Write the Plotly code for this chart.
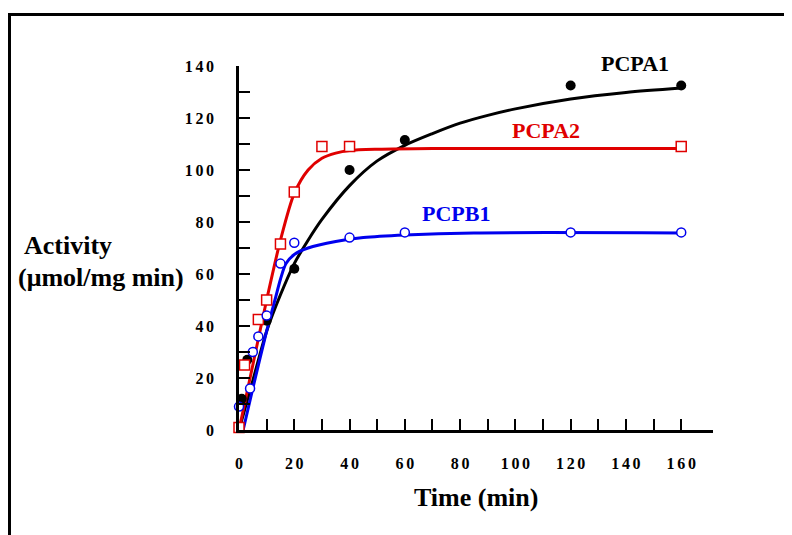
import plotly.graph_objects as go

# ---- measured data points ----
time_pcpa1 = [1, 3, 10, 20, 40, 60, 120, 160]
act_pcpa1 = [12, 27, 42, 62, 100, 111.5, 132.5, 132.5]

time_pcpa2 = [0, 2, 7, 10, 15, 20, 30, 40, 160]
act_pcpa2 = [1, 25, 42.5, 50, 71.5, 91.5, 109, 109, 109]

time_pcpb1 = [0, 4, 5, 7, 10, 15, 20, 40, 60, 120, 160]
act_pcpb1 = [9, 16, 30, 36, 44, 64, 72, 74, 76, 76, 76]

# ---- fitted curves ----
fit_t_pcpa1 = [0, 5, 10, 15, 20, 25, 30, 40, 50, 60, 70, 80, 90, 100, 120, 140, 160]
fit_pcpa1 = [0, 19, 38, 52, 64, 73, 81, 94, 103.5, 109.5, 114, 118, 121, 123.5, 127.3, 129.8, 131.5]

fit_t_pcpa2 = [0, 5, 10, 15, 20, 25, 30, 35, 40, 50, 70, 160]
fit_pcpa2 = [0, 25, 50, 73, 91, 100, 104.5, 106.5, 107.5, 108, 108.3, 108.3]

fit_t_pcpb1 = [1.5, 5, 10, 13, 15, 17, 20, 25, 35, 45, 60, 85, 160]
fit_pcpb1 = [0, 16, 38, 50, 58, 64, 67.5, 70, 72.5, 74, 75, 75.8, 75.8]

x_tickvals = list(range(0, 161, 10))
y_tickvals = list(range(0, 141, 10))

def spaced(v):
    return "\u2006".join(str(v))

x_ticktext = [spaced(v) if v % 20 == 0 else "" for v in x_tickvals]
y_ticktext = [spaced(v) if v % 20 == 0 else "" for v in y_tickvals]

BLACK = "#000000"
RED = "#e00000"
BLUE = "#0000ee"
FONT = "Liberation Serif"

fig = go.Figure()

fig.add_trace(go.Scatter(x=fit_t_pcpa1, y=fit_pcpa1, mode="lines",
                         line=dict(color=BLACK, width=3, shape="spline", smoothing=0.8),
                         cliponaxis=False))
fig.add_trace(go.Scatter(x=fit_t_pcpa2, y=fit_pcpa2, mode="lines",
                         line=dict(color=RED, width=3, shape="spline", smoothing=0.8),
                         cliponaxis=False))
fig.add_trace(go.Scatter(x=fit_t_pcpb1, y=fit_pcpb1, mode="lines",
                         line=dict(color=BLUE, width=3, shape="spline", smoothing=0.8),
                         cliponaxis=False))

fig.add_trace(go.Scatter(x=time_pcpa1, y=act_pcpa1, mode="markers",
                         marker=dict(symbol="circle", size=10, color=BLACK),
                         cliponaxis=False))
fig.add_trace(go.Scatter(x=time_pcpa2, y=act_pcpa2, mode="markers",
                         marker=dict(symbol="square", size=10, color="white",
                                     line=dict(color=RED, width=1.5)),
                         cliponaxis=False))
fig.add_trace(go.Scatter(x=time_pcpb1, y=act_pcpb1, mode="markers",
                         marker=dict(symbol="circle", size=9, color="white",
                                     line=dict(color=BLUE, width=1.5)),
                         cliponaxis=False))

tickfont = dict(family=FONT, size=16, color="black", weight="bold")

fig.update_xaxes(range=[0, 171.5], tickmode="array", tickvals=x_tickvals,
                 ticktext=x_ticktext, ticks="inside", ticklen=11, tickwidth=2,
                 tickcolor="black", showline=True, linecolor="black", linewidth=2.5,
                 showgrid=False, zeroline=False, tickfont=tickfont,
                 ticklabelstandoff=17)
fig.update_yaxes(range=[0, 140], tickmode="array", tickvals=y_tickvals,
                 ticktext=y_ticktext, ticks="inside", ticklen=11, tickwidth=2,
                 tickcolor="black", showline=True, linecolor="black", linewidth=2.5,
                 showgrid=False, zeroline=False, tickfont=tickfont,
                 ticklabelstandoff=19)

OFF = 8  # page body margin
W, H = 792, 535
L, T = 239 - OFF, 66 - OFF
R = W - (713 - OFF)
B = H - (430 - OFF)
pw, ph = W - L - R, H - T - B

def px_x(px):
    return (px - OFF - L) / pw

def px_y(py):
    return (H - B - (py - OFF)) / ph

titlefont = dict(family=FONT, size=26, color="black", weight="bold")
labelfont = dict(family=FONT, size=22, weight="bold")

annotations = [
    dict(text="Time (min)", xref="paper", yref="paper", x=px_x(476), y=px_y(497),
         xanchor="center", yanchor="middle", showarrow=False, font=titlefont),
    dict(text="Activity", xref="paper", yref="paper", x=px_x(22), y=px_y(245),
         xanchor="left", yanchor="middle", showarrow=False, font=titlefont),
    dict(text="(\u03bcmol/mg min)", xref="paper", yref="paper", x=px_x(16), y=px_y(277),
         xanchor="left", yanchor="middle", showarrow=False, font=titlefont),
    dict(text="PCPA1", xref="paper", yref="paper", x=px_x(635), y=px_y(63),
         xanchor="center", yanchor="middle", showarrow=False,
         font=dict(labelfont, color=BLACK)),
    dict(text="PCPA2", xref="paper", yref="paper", x=px_x(546), y=px_y(130),
         xanchor="center", yanchor="middle", showarrow=False,
         font=dict(labelfont, color=RED)),
    dict(text="PCPB1", xref="paper", yref="paper", x=px_x(456), y=px_y(213),
         xanchor="center", yanchor="middle", showarrow=False,
         font=dict(labelfont, color=BLUE)),
]

shapes = [
    dict(type="line", xref="paper", yref="paper", x0=px_x(8), x1=px_x(820),
         y0=px_y(14.5), y1=px_y(14.5), line=dict(color="black", width=3)),
    dict(type="line", xref="paper", yref="paper", x0=px_x(9.5), x1=px_x(9.5),
         y0=px_y(13), y1=px_y(560), line=dict(color="black", width=3)),
]

fig.update_layout(width=W, height=H, margin=dict(l=L, r=R, t=T, b=B),
                  paper_bgcolor="white", plot_bgcolor="white", showlegend=False,
                  annotations=annotations, shapes=shapes)

fig.write_html("out.html")
